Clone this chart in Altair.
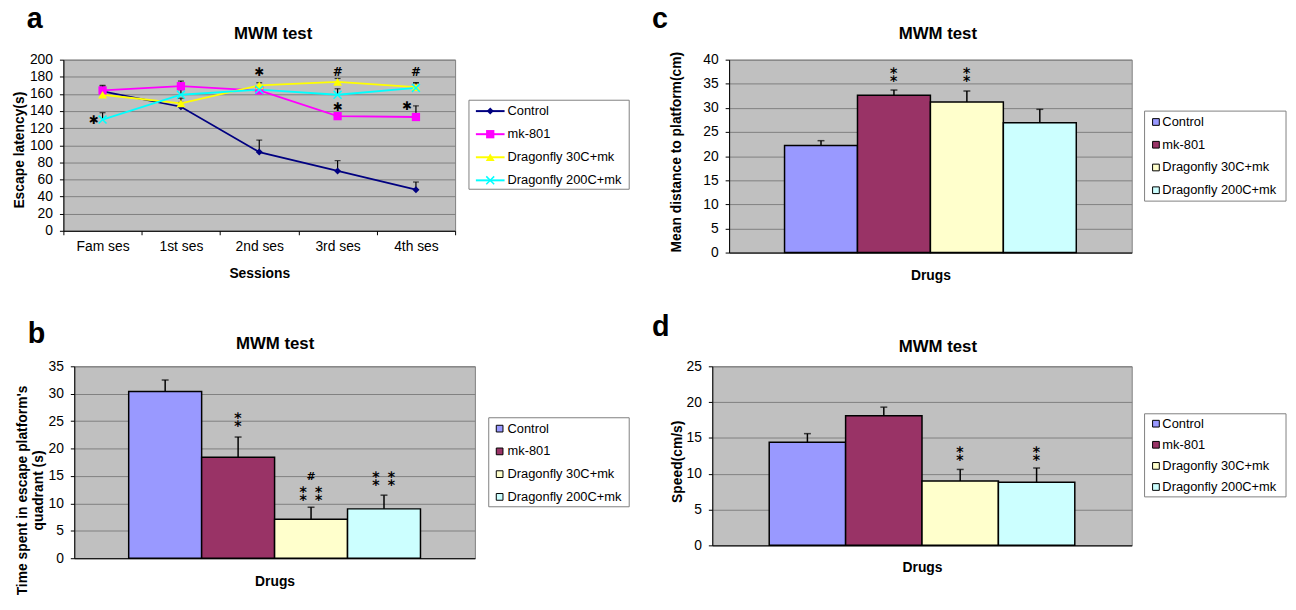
import altair as alt
import pandas as pd

FONT = "Liberation Sans"
SYM_FONT = "DejaVu Sans"

SESSIONS = ["Fam ses", "1st ses", "2nd ses", "3rd ses", "4th ses"]
SERIES = ["Control", "mk-801", "Dragonfly 30C+mk", "Dragonfly 200C+mk"]
LINE_COLORS = ["#000080", "#FF00FF", "#FFFF00", "#00FFFF"]
BAR_COLORS = ["#9999FF", "#993366", "#FFFFCC", "#CCFFFF"]

# panel a: escape latency (s)
LAT_CONTROL = [163, 145, 92, 70, 48]
LAT_MK = [164, 169, 164, 134, 133]
LAT_D30 = [159, 149, 170, 174, 168]
LAT_D200 = [130, 159, 165, 159, 167]
LAT_CONTROL_UP = [169, 150, 106, 82, 57]
LAT_MK_UP = [170, 175, 168, 137, 146]
LAT_D30_UP = [163, 155, 173, 178, 173]
LAT_D200_UP = [138, 165, 169, 166, 173]

ANN_A_SESSION = ["2nd ses", "3rd ses", "3rd ses", "4th ses"]
ANN_A_Y = [186, 186, 145, 186]
ANN_A_TEXT = ["✱", "#", "✱", "#"]
ANN_A_LEFT_SESSION = ["Fam ses", "4th ses"]
ANN_A_LEFT_Y = [130, 146]
ANN_A_LEFT_TEXT = ["✱", "✱"]

# panel b: time in target quadrant (s)
TIME_MEAN = [30.4, 18.4, 7.1, 9.0]
TIME_UP = [32.5, 22.1, 9.3, 11.5]
ANN_B_GROUP = ["mk-801", "Dragonfly 30C+mk", "Dragonfly 200C+mk"]
ANN_B_Y = [24.8, 11.3, 14.0]
ANN_B_TEXT = ["⁑", "⁑ ⁑", "⁑ ⁑"]
HASH_B_GROUP = ["Dragonfly 30C+mk"]
HASH_B_Y = [14.8]

# panel c: mean distance to platform (cm)
DIST_MEAN = [22.2, 32.6, 31.2, 26.9]
DIST_UP = [23.2, 33.7, 33.5, 29.7]
ANN_C_GROUP = ["mk-801", "Dragonfly 30C+mk"]
ANN_C_Y = [36.4, 36.4]
ANN_C_TEXT = ["⁑", "⁑"]

# panel d: speed (cm/s)
SPEED_MEAN = [14.4, 18.1, 9.0, 8.8]
SPEED_UP = [15.6, 19.3, 10.6, 10.8]
ANN_D_GROUP = ["Dragonfly 30C+mk", "Dragonfly 200C+mk"]
ANN_D_Y = [12.5, 12.5]
ANN_D_TEXT = ["⁑", "⁑"]

VIEW = alt.ViewBackground(fill="#C0C0C0", stroke="#808080", strokeWidth=1)
MARKER_SHAPES = ["diamond", "square", "triangle-up", "M-1,-1L1,1M-1,1L1,-1"]
MARKER_FILLED = [True, True, True, False]
MARKER_SIZES = [50, 70, 80, 64]


def letter_layer(letter, lx, ly):
    return alt.Chart(pd.DataFrame({"t": [letter]})).mark_text(
        font=FONT, fontSize=29, fontWeight="bold", align="left",
        baseline="alphabetic", color="black"
    ).encode(text="t:N", x=alt.value(lx), y=alt.value(ly))


def title_layer(cx, by):
    return alt.Chart(pd.DataFrame({"t": ["MWM test"]})).mark_text(
        font=FONT, fontSize=17, fontWeight="bold", align="center",
        baseline="alphabetic", color="black"
    ).encode(text="t:N", x=alt.value(cx), y=alt.value(by))


def spacer(w):
    return alt.Chart(pd.DataFrame({"s": [0]})).mark_rect(opacity=0).encode(
        x=alt.value(0), x2=alt.value(w), y=alt.value(0), y2=alt.value(1)
    ).properties(width=w, height=1)


def legend_chart(kind, width, height, box, rows, sym_x, label_x):
    bx, by, bw, bh = box
    df = pd.DataFrame({"series": SERIES})
    ys = alt.Y("series:N", sort=SERIES, axis=None,
               scale=alt.Scale(type="point", range=list(rows), padding=0))
    frame = alt.Chart(pd.DataFrame({"b": [0]})).mark_rect(
        fill="white", stroke="#808080", strokeWidth=1
    ).encode(x=alt.value(bx), x2=alt.value(bx + bw), y=alt.value(by), y2=alt.value(by + bh))
    labels = alt.Chart(df).mark_text(
        align="left", baseline="middle", font=FONT, fontSize=13, color="black"
    ).encode(x=alt.value(label_x), y=ys, text="series:N")
    layers = [frame]
    if kind == "bar":
        layers.append(
            alt.Chart(df).mark_square(size=46, stroke="black", strokeWidth=1, opacity=1).encode(
                x=alt.value(sym_x), y=ys,
                fill=alt.Fill("series:N", scale=alt.Scale(domain=SERIES, range=BAR_COLORS), legend=None),
            )
        )
    else:
        layers.append(
            alt.Chart(df).mark_rule(strokeWidth=2).encode(
                x=alt.value(sym_x - 14.5), x2=alt.value(sym_x + 14.5), y=ys,
                color=alt.Color("series:N", scale=alt.Scale(domain=SERIES, range=LINE_COLORS), legend=None),
            )
        )
        for s, c, sh, f, sz in zip(SERIES, LINE_COLORS, MARKER_SHAPES, MARKER_FILLED, MARKER_SIZES):
            layers.append(
                alt.Chart(df).transform_filter(alt.datum.series == s).mark_point(
                    shape=sh, filled=f, size=sz, color=c, opacity=1, strokeWidth=1.5
                ).encode(x=alt.value(sym_x), y=ys)
            )
    layers.append(labels)
    return alt.layer(*layers).properties(width=width, height=height)


# ---------------- panel a ----------------
rows = []
for s, means, ups in zip(
    SERIES,
    [LAT_CONTROL, LAT_MK, LAT_D30, LAT_D200],
    [LAT_CONTROL_UP, LAT_MK_UP, LAT_D30_UP, LAT_D200_UP],
):
    for ses, m, u in zip(SESSIONS, means, ups):
        rows.append({"series": s, "session": ses, "mean": m, "up": u})
lat = pd.DataFrame(rows)

xa = alt.X(
    "session:N", sort=SESSIONS,
    scale=alt.Scale(type="band", paddingInner=0, paddingOuter=0),
    axis=alt.Axis(title="Sessions", labelAngle=0, tickBand="extent",
                  labelPadding=5, titlePadding=13, grid=False),
)
ya_axis = alt.Axis(title="Escape latency(s)", values=list(range(0, 201, 20)),
                   grid=True, titlePadding=3, titleY=91)
ya_scale = alt.Scale(domain=[0, 200])
ya = alt.Y("mean:Q", scale=ya_scale, axis=ya_axis)
ya_up = alt.Y("up:Q", scale=ya_scale, axis=ya_axis)
color_a = alt.Scale(domain=SERIES, range=LINE_COLORS)

base_a = alt.Chart(lat)
err_a = base_a.mark_rule(color="black", strokeWidth=1.2).encode(x=xa, y=ya, y2="up:Q")
cap_a = base_a.mark_tick(color="black", size=6, thickness=1.2).encode(x=xa, y=ya_up)
line_a = base_a.mark_line(strokeWidth=1.8).encode(
    x=xa, y=ya, color=alt.Color("series:N", scale=color_a, legend=None)
)
point_layers = []
for s, c, sh, f, sz in zip(SERIES, LINE_COLORS, MARKER_SHAPES, MARKER_FILLED, MARKER_SIZES):
    point_layers.append(
        base_a.transform_filter(alt.datum.series == s).mark_point(
            shape=sh, filled=f, size=sz, color=c, opacity=1, strokeWidth=1.5
        ).encode(x=xa, y=ya)
    )
ann_a = alt.Chart(pd.DataFrame({"session": ANN_A_SESSION, "ay": ANN_A_Y, "label": ANN_A_TEXT})).mark_text(
    font=SYM_FONT, fontSize=12, fontWeight="bold", color="black"
).encode(x=xa, y=alt.Y("ay:Q", scale=ya_scale, axis=ya_axis), text="label:N")
ann_a_left = alt.Chart(pd.DataFrame({"session": ANN_A_LEFT_SESSION, "ay": ANN_A_LEFT_Y, "label": ANN_A_LEFT_TEXT})).mark_text(
    font=SYM_FONT, fontSize=12, fontWeight="bold", color="black", dx=-9
).encode(x=xa, y=alt.Y("ay:Q", scale=ya_scale, axis=ya_axis), text="label:N")

panel_a = alt.layer(
    err_a, cap_a, line_a, *point_layers, ann_a, ann_a_left,
    letter_layer("a", -37, -32), title_layer(212, -21),
).properties(width=396, height=173, view=VIEW)


# ---------------- bar panels ----------------
def bar_panel(means, ups, ann_groups, ann_y, ann_text, hash_groups, hash_y,
              ymax, ystep, ytitle, w, h, pad_outer,
              letter, letter_pos, title_pos, y_title_pad, y_title_y, x_title_pad):
    df = pd.DataFrame({"group": SERIES, "mean": means, "up": ups})
    yaxis = alt.Axis(title=ytitle, values=list(range(0, ymax + 1, ystep)), grid=True,
                     titlePadding=y_title_pad, titleY=y_title_y, titleLineHeight=16)
    yscale = alt.Scale(domain=[0, ymax])
    x = alt.X("group:N", sort=SERIES,
              scale=alt.Scale(paddingInner=0, paddingOuter=pad_outer),
              axis=alt.Axis(title="Drugs", labels=False, ticks=False,
                            titlePadding=x_title_pad, grid=False))
    y = alt.Y("mean:Q", scale=yscale, axis=yaxis)
    yup = alt.Y("up:Q", scale=yscale, axis=yaxis)
    base = alt.Chart(df)
    bars = base.mark_bar(stroke="black", strokeWidth=1.5).encode(
        x=x, y=y, color=alt.Color("group:N", scale=alt.Scale(domain=SERIES, range=BAR_COLORS), legend=None)
    )
    err = base.mark_rule(color="black", strokeWidth=1.5).encode(x=x, y=y, y2="up:Q")
    cap = base.mark_tick(color="black", size=7, thickness=1.5).encode(x=x, y=yup)
    ann = alt.Chart(pd.DataFrame({"group": ann_groups, "ay": ann_y, "label": ann_text})).mark_text(
        font=SYM_FONT, fontSize=18, fontWeight="bold", color="black"
    ).encode(x=x, y=alt.Y("ay:Q", scale=yscale, axis=yaxis), text="label:N")
    layers = [bars, err, cap, ann]
    if hash_groups:
        layers.append(
            alt.Chart(pd.DataFrame({"group": hash_groups, "ay": hash_y, "label": ["#"] * len(hash_groups)}))
            .mark_text(font=SYM_FONT, fontSize=11, fontWeight="bold", color="black")
            .encode(x=x, y=alt.Y("ay:Q", scale=yscale, axis=yaxis), text="label:N")
        )
    layers += [letter_layer(letter, *letter_pos), title_layer(*title_pos)]
    return alt.layer(*layers).properties(width=w, height=h, view=VIEW)


panel_b = bar_panel(TIME_MEAN, TIME_UP, ANN_B_GROUP, ANN_B_Y, ANN_B_TEXT, HASH_B_GROUP, HASH_B_Y,
                    35, 5, ["Time spent in escape platform's", "quadrant (s)"],
                    405, 194, 0.746, "b", (-47, -24), (203, -17), 3, 125, 17)
panel_c = bar_panel(DIST_MEAN, DIST_UP, ANN_C_GROUP, ANN_C_Y, ANN_C_TEXT, [], [],
                    40, 5, "Mean distance to platform(cm)",
                    407, 195, 0.76, "c", (-78, -32), (211, -21), 20, 93, 16)
panel_d = bar_panel(SPEED_MEAN, SPEED_UP, ANN_D_GROUP, ANN_D_Y, ANN_D_TEXT, [], [],
                    25, 5, "Speed(cm/s)",
                    424, 181, 0.745, "d", (-61, -31), (228, -14), 2, 96, 15)

leg_a = legend_chart("line", 176, 132, (12, 41, 162, 90), (52, 122), 33.5, 51)
leg_b = legend_chart("bar", 156, 143, (12, 52, 142, 90), (63, 132), 23, 31)
leg_c = legend_chart("bar", 155, 144, (11, 52, 143, 91), (63, 132), 22.5, 29)
leg_d = legend_chart("bar", 155, 133, (11, 48, 143, 84), (58, 122), 22.5, 29)

INDEP = dict(color="independent", fill="independent", y="independent", x="independent")
row1 = alt.hconcat(spacer(2), panel_a, leg_a, spacer(17), panel_c, leg_c, spacing=0).resolve_scale(**INDEP)
row2 = alt.hconcat(spacer(4), panel_b, leg_b, spacer(17), panel_d, leg_d, spacing=0).resolve_scale(**INDEP)

chart = alt.vconcat(row1, row2, spacing=29).properties(
    padding={"top": -7, "left": 0, "right": 0, "bottom": 0}, background="white"
).configure_axis(
    labelFont=FONT, labelFontSize=14, labelColor="black",
    titleFont=FONT, titleFontSize=14, titleFontWeight="bold", titleColor="black",
    tickColor="black", tickSize=4, domainColor="black",
    gridColor="#808080", gridWidth=1, labelPadding=7,
).configure_view(stroke="transparent").resolve_scale(color="independent", fill="independent")

chart.save("out.html", embed_options={"renderer": "svg", "actions": False})
